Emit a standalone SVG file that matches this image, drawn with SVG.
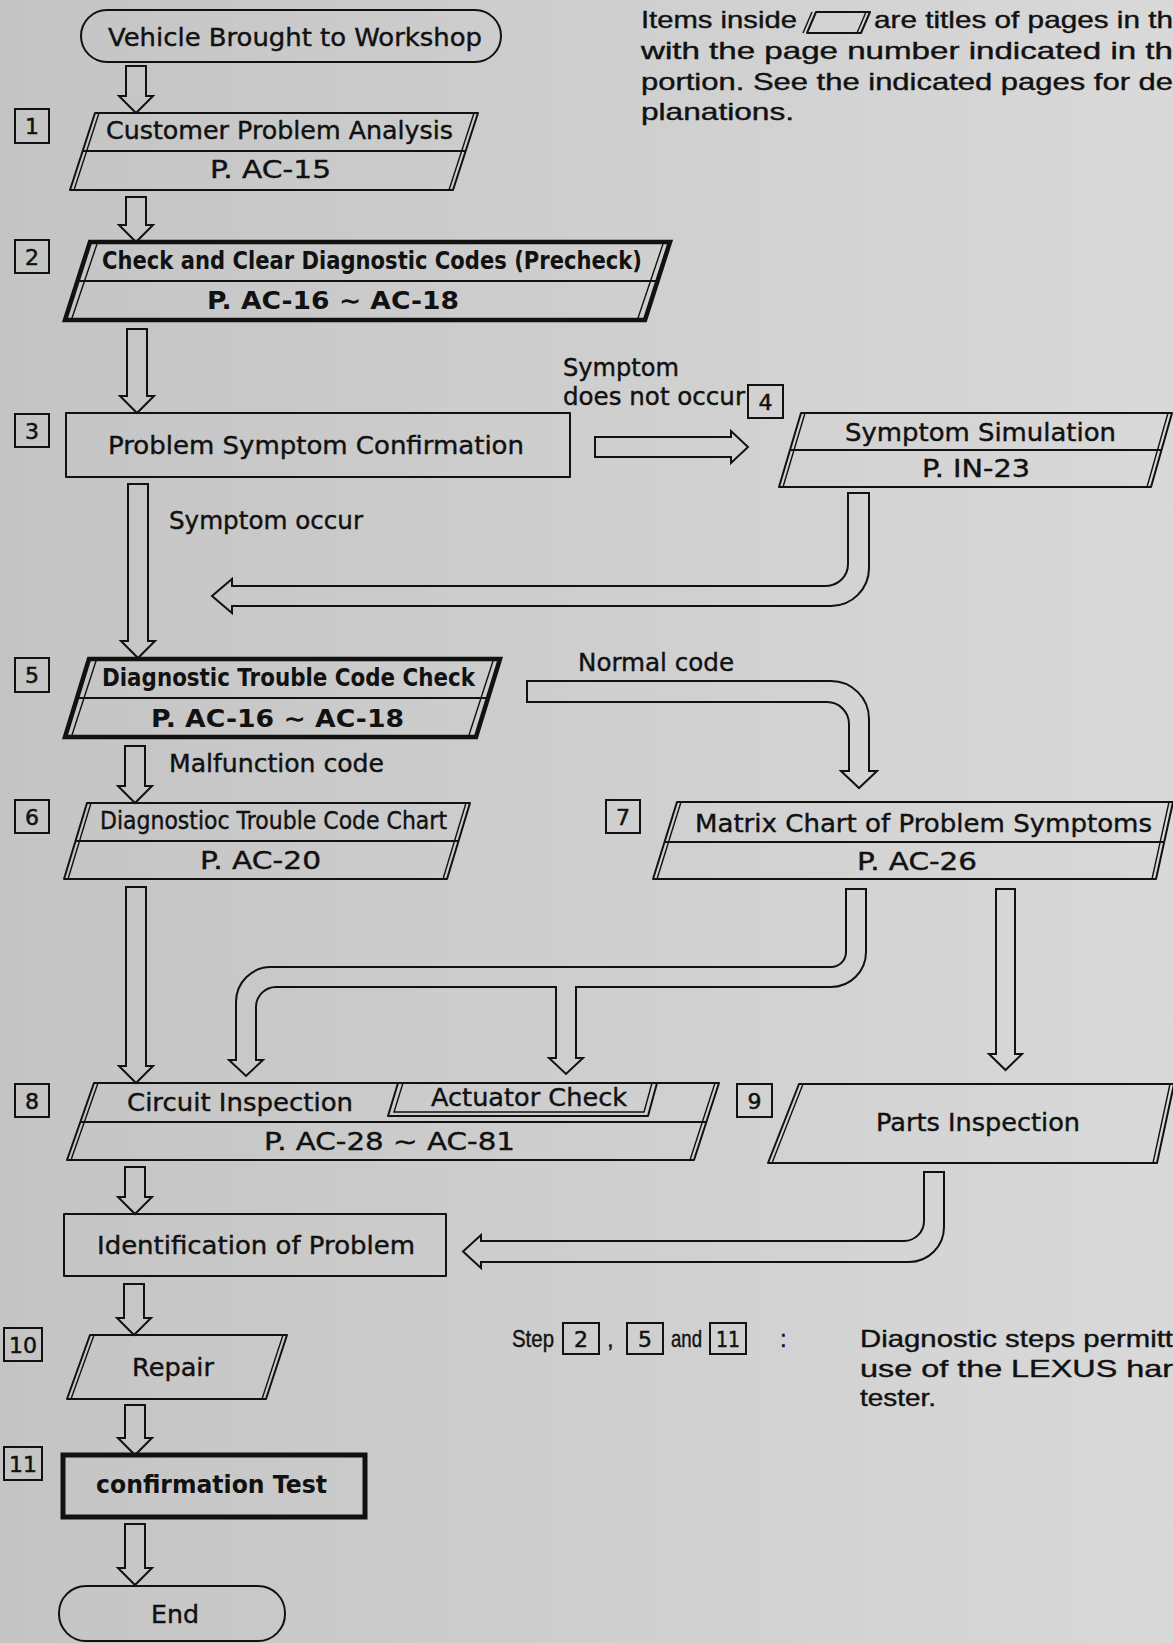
<svg xmlns="http://www.w3.org/2000/svg" width="1173" height="1643" viewBox="0 0 1173 1643">
<defs>
<linearGradient id="bg" x1="0" y1="0" x2="1" y2="0">
<stop offset="0" stop-color="#c4c4c4"/>
<stop offset="1" stop-color="#d9d9d9"/>
</linearGradient>
<style>
.ln{fill:none;stroke:#111;stroke-width:2;stroke-linejoin:round}
.bd{fill:none;stroke:#111;stroke-width:4.5;stroke-linejoin:miter}
.in{fill:none;stroke:#111;stroke-width:1.4}
.pipe{fill:none;stroke:#111;stroke-width:2;stroke-linejoin:miter}
.t{font-family:"DejaVu Sans","Liberation Sans",sans-serif;font-size:24px;fill:#111;stroke:#111;stroke-width:0.4}
.b{font-weight:bold;stroke-width:0}
.n{font-family:"DejaVu Sans","Liberation Sans",sans-serif;font-size:22px;fill:#111;stroke:#111;stroke-width:0.5;text-anchor:middle}
.nb{fill:none;stroke:#111;stroke-width:2}
.lg{font-family:"Liberation Sans","Arial",sans-serif;font-size:24px;fill:#111;stroke:#111;stroke-width:0.4}
</style>
</defs>
<rect width="1173" height="1643" fill="url(#bg)"/>

<g id="connectors">
<path class="pipe" d="M126,66 V96 H119 L136,113 L153,96 H146 V66 Z"/>
<path class="pipe" d="M126,197 V225 H119 L136,242 L153,225 H146 V197 Z"/>
<path class="pipe" d="M127,329 V396 H120 L137,413 L154,396 H147 V329 Z"/>
<path class="pipe" d="M128,484 V641 H121 L138,658 L155,641 H148 V484 Z"/>
<path class="pipe" d="M595,437 H731 V431 L748,447 L731,463 V457 H595 Z"/>
<path class="pipe" d="M848,493 H869 V568 A38,38 0 0 1 831,606 H232 V613 L212,596 L232,579 V586 H826 A22,22 0 0 0 848,564 Z"/>
<path class="pipe" d="M125,746 V786 H118 L135,803 L152,786 H145 V746 Z"/>
<path class="pipe" d="M527,681 H831 A38,38 0 0 1 869,719 V771 H877 L859,788 L841,771 H849 V724 A22,22 0 0 0 827,702 H527 Z"/>
<path class="pipe" d="M126,887 V1066 H119 L136,1083 L153,1066 H146 V887 Z"/>
<path class="pipe" d="M846,889 H866 V952 A35,35 0 0 1 831,987 H576 V1058 H583 L566,1074 L549,1058 H556 V987 H276 A20,20 0 0 0 256,1007 V1060 H263 L246,1076 L229,1060 H236 V1002 A35,35 0 0 1 271,967 H831 A15,15 0 0 0 846,952 Z"/>
<path class="pipe" d="M996,889 H1015 V1054 H1022 L1005.5,1070 L989,1054 H996 Z"/>
<path class="pipe" d="M125,1167 V1197 H118 L135,1214 L152,1197 H145 V1167 Z"/>
<path class="pipe" d="M924,1172 H944 V1227 A35,35 0 0 1 909,1262 H481 V1268 L463,1251.5 L481,1235 V1241 H904 A20,20 0 0 0 924,1221 Z"/>
<path class="pipe" d="M124,1284 V1318 H117 L134,1335 L151,1318 H144 V1284 Z"/>
<path class="pipe" d="M125,1405 V1438 H118 L135,1455 L152,1438 H145 V1405 Z"/>
<path class="pipe" d="M125,1524 V1568 H118 L135,1585 L152,1568 H145 V1524 Z"/>
</g>

<g id="legend">
<text class="lg" x="641" y="28" textLength="156" lengthAdjust="spacingAndGlyphs">Items inside</text>
<polygon class="ln" points="816,12 870,12 861,33 807,33"/>
<line class="in" x1="812" y1="12" x2="803" y2="33"/>
<line class="in" x1="866" y1="12" x2="857" y2="33"/>
<text class="lg" x="874" y="28" textLength="299" lengthAdjust="spacingAndGlyphs">are titles of pages in th</text>
<text class="lg" x="641" y="59" textLength="532" lengthAdjust="spacingAndGlyphs">with the page number indicated in th</text>
<text class="lg" x="641" y="90" textLength="532" lengthAdjust="spacingAndGlyphs">portion. See the indicated pages for de</text>
<text class="lg" x="641" y="120" textLength="153" lengthAdjust="spacingAndGlyphs">planations.</text>
</g>

<g id="start">
<rect class="ln" x="81" y="10" width="420" height="52" rx="26"/>
<text class="t" x="108" y="46" font-size="25" textLength="374" lengthAdjust="spacingAndGlyphs">Vehicle Brought to Workshop</text>
</g>

<g id="step1">
<rect class="nb" x="15" y="109" width="34" height="34"/><text class="n" x="32" y="134">1</text>
<polygon class="ln" points="95,113 478,113 453,190 70,190"/>
<line class="in" x1="99" y1="113" x2="74" y2="190"/><line class="in" x1="474" y1="113" x2="449" y2="190"/>
<line class="ln" x1="82.7" y1="151" x2="465.7" y2="151"/>
<text class="t" x="106" y="139" textLength="347" lengthAdjust="spacingAndGlyphs">Customer Problem Analysis</text>
<text class="t" x="210" y="178" textLength="121" lengthAdjust="spacingAndGlyphs">P. AC-15</text>
</g>

<g id="step2">
<rect class="nb" x="15" y="240" width="34" height="33"/><text class="n" x="32" y="265">2</text>
<polygon class="bd" points="90,242 670,242 645,320 65,320"/>
<line class="in" x1="97" y1="244" x2="72" y2="318"/><line class="in" x1="663" y1="244" x2="638" y2="318"/>
<line class="ln" x1="77.5" y1="281" x2="657.5" y2="281"/>
<text class="t b" x="102" y="269" font-size="21" textLength="540" lengthAdjust="spacingAndGlyphs">Check and Clear Diagnostic Codes (Precheck)</text>
<text class="t b" x="207" y="309" textLength="252" lengthAdjust="spacingAndGlyphs">P. AC-16 ∼ AC-18</text>
</g>

<g id="step3">
<rect class="nb" x="15" y="414" width="34" height="33"/><text class="n" x="32" y="439">3</text>
<rect class="ln" x="66" y="413" width="504" height="64"/>
<text class="t" x="108" y="454" textLength="416" lengthAdjust="spacingAndGlyphs">Problem Symptom Confirmation</text>
</g>

<g id="labels">
<text class="t" x="169" y="529" font-size="23" textLength="194" lengthAdjust="spacingAndGlyphs">Symptom occur</text>
<text class="t" x="563" y="376" font-size="23" textLength="116" lengthAdjust="spacingAndGlyphs">Symptom</text>
<text class="t" x="563" y="405" font-size="23" textLength="182" lengthAdjust="spacingAndGlyphs">does not occur</text>
<text class="t" x="578" y="671" font-size="23" textLength="156" lengthAdjust="spacingAndGlyphs">Normal code</text>
<text class="t" x="169" y="772" font-size="23" textLength="215" lengthAdjust="spacingAndGlyphs">Malfunction code</text>
</g>

<g id="step4">
<rect class="nb" x="748" y="385" width="35" height="33"/><text class="n" x="765.5" y="410">4</text>
<polygon class="ln" points="801,413 1172,413 1151,487 779,487"/>
<line class="in" x1="805" y1="413" x2="783" y2="487"/><line class="in" x1="1168" y1="413" x2="1147" y2="487"/>
<line class="ln" x1="790" y1="450" x2="1161.5" y2="450"/>
<text class="t" x="845" y="441" textLength="271" lengthAdjust="spacingAndGlyphs">Symptom Simulation</text>
<text class="t" x="922" y="477" textLength="108" lengthAdjust="spacingAndGlyphs">P. IN-23</text>
</g>

<g id="step5">
<rect class="nb" x="15" y="658" width="34" height="34"/><text class="n" x="32" y="683">5</text>
<polygon class="bd" points="89,659 500,659 476,737 65,737"/>
<line class="in" x1="96" y1="661" x2="72" y2="735"/><line class="in" x1="493" y1="661" x2="469" y2="735"/>
<line class="ln" x1="77" y1="698" x2="488" y2="698"/>
<text class="t b" x="102" y="686" font-size="21" textLength="373" lengthAdjust="spacingAndGlyphs">Diagnostic Trouble Code Check</text>
<text class="t b" x="151" y="727" textLength="253" lengthAdjust="spacingAndGlyphs">P. AC-16 ∼ AC-18</text>
</g>

<g id="step6">
<rect class="nb" x="15" y="800" width="34" height="33"/><text class="n" x="32" y="825">6</text>
<polygon class="ln" points="87,803 470,803 447,879 64,879"/>
<line class="in" x1="91" y1="803" x2="68" y2="879"/><line class="in" x1="466" y1="803" x2="443" y2="879"/>
<line class="ln" x1="75.5" y1="841" x2="458.5" y2="841"/>
<text class="t" x="100" y="829" font-size="20" textLength="347" lengthAdjust="spacingAndGlyphs">Diagnostioc Trouble Code Chart</text>
<text class="t" x="200" y="869" textLength="121" lengthAdjust="spacingAndGlyphs">P. AC-20</text>
</g>

<g id="step7">
<rect class="nb" x="606" y="800" width="34" height="33"/><text class="n" x="623" y="825">7</text>
<polygon class="ln" points="677,802 1173,802 1156,879 653,879"/>
<line class="in" x1="681" y1="802" x2="657" y2="879"/><line class="in" x1="1169" y1="802" x2="1152" y2="879"/>
<line class="ln" x1="664.5" y1="842" x2="1164.2" y2="842"/>
<text class="t" x="695" y="832" textLength="457" lengthAdjust="spacingAndGlyphs">Matrix Chart of Problem Symptoms</text>
<text class="t" x="857" y="870" textLength="120" lengthAdjust="spacingAndGlyphs">P. AC-26</text>
</g>

<g id="step8">
<rect class="nb" x="15" y="1084" width="34" height="33"/><text class="n" x="32" y="1109">8</text>
<polygon class="ln" points="94,1083 719,1083 694,1160 67,1160"/>
<line class="in" x1="98" y1="1083" x2="71" y2="1160"/><line class="in" x1="715" y1="1083" x2="690" y2="1160"/>
<line class="ln" x1="80.3" y1="1122" x2="706.3" y2="1122"/>
<path class="ln" d="M398,1083 L388,1116 L648,1116 L657,1083"/>
<path class="in" d="M403,1083 L394,1112 L644,1112 L652,1083"/>
<text class="t" x="127" y="1111" textLength="226" lengthAdjust="spacingAndGlyphs">Circuit Inspection</text>
<text class="t" x="431" y="1106" textLength="196" lengthAdjust="spacingAndGlyphs">Actuator Check</text>
<text class="t" x="264" y="1150" textLength="251" lengthAdjust="spacingAndGlyphs">P. AC-28 ∼ AC-81</text>
</g>

<g id="step9">
<rect class="nb" x="737" y="1084" width="35" height="33"/><text class="n" x="754.5" y="1109">9</text>
<polygon class="ln" points="799,1084 1174,1084 1157,1163 768,1163"/>
<line class="in" x1="803" y1="1084" x2="772" y2="1163"/><line class="in" x1="1170" y1="1084" x2="1153" y2="1163"/>
<text class="t" x="876" y="1131" textLength="204" lengthAdjust="spacingAndGlyphs">Parts Inspection</text>
</g>

<g id="identification">
<rect class="ln" x="64" y="1214" width="382" height="62"/>
<text class="t" x="97" y="1254" textLength="318" lengthAdjust="spacingAndGlyphs">Identification of Problem</text>
</g>

<g id="step10">
<rect class="nb" x="4" y="1328" width="38" height="33"/><text class="n" x="23" y="1353" textLength="28" lengthAdjust="spacingAndGlyphs">10</text>
<polygon class="ln" points="90,1335 287,1335 266,1399 67,1399"/>
<line class="in" x1="94" y1="1335" x2="71" y2="1399"/><line class="in" x1="283" y1="1335" x2="262" y2="1399"/>
<text class="t" x="132" y="1376" textLength="82" lengthAdjust="spacingAndGlyphs">Repair</text>
</g>

<g id="step11">
<rect class="nb" x="4" y="1447" width="38" height="33"/><text class="n" x="23" y="1472" textLength="28" lengthAdjust="spacingAndGlyphs">11</text>
<rect x="63" y="1455" width="302" height="62" fill="none" stroke="#111" stroke-width="5"/>
<text class="t b" x="96" y="1493" font-size="23" textLength="231" lengthAdjust="spacingAndGlyphs">confirmation Test</text>
</g>

<g id="end">
<rect class="ln" x="59" y="1586" width="226" height="55" rx="27"/>
<text class="t" x="151" y="1623" textLength="48" lengthAdjust="spacingAndGlyphs">End</text>
</g>

<g id="note">
<text class="lg" x="512" y="1347" textLength="42" lengthAdjust="spacingAndGlyphs">Step</text>
<rect class="nb" x="563" y="1323" width="36" height="31"/><text class="n" x="581" y="1347">2</text>
<text class="lg" x="607" y="1347">,</text>
<rect class="nb" x="627" y="1323" width="36" height="31"/><text class="n" x="645" y="1347">5</text>
<text class="lg" x="671" y="1347" textLength="31" lengthAdjust="spacingAndGlyphs">and</text>
<rect class="nb" x="710" y="1323" width="36" height="31"/><text class="n" x="728" y="1347" textLength="24" lengthAdjust="spacingAndGlyphs">11</text>
<text class="lg" x="780" y="1347">:</text>
<text class="lg" x="860" y="1347" textLength="313" lengthAdjust="spacingAndGlyphs">Diagnostic steps permitt</text>
<text class="lg" x="860" y="1377" textLength="313" lengthAdjust="spacingAndGlyphs">use of the LEXUS har</text>
<text class="lg" x="860" y="1406" textLength="76" lengthAdjust="spacingAndGlyphs">tester.</text>
</g>
</svg>
